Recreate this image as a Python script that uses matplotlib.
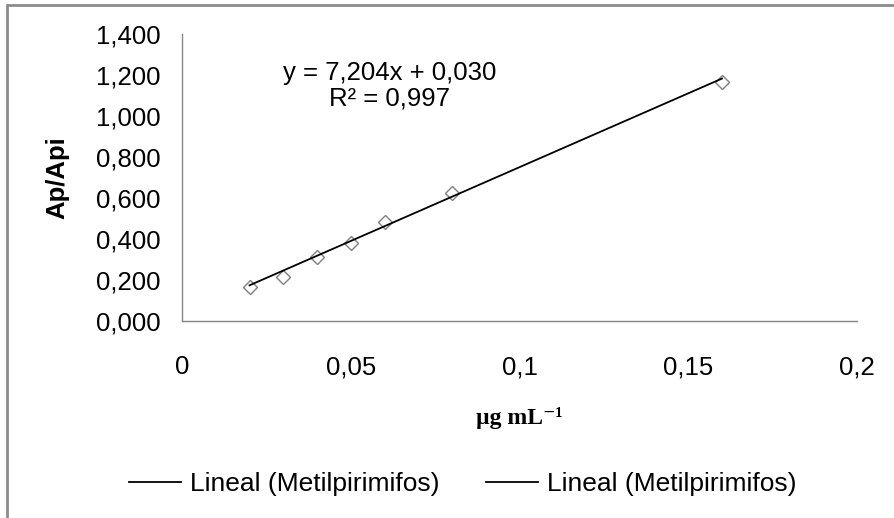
import matplotlib
matplotlib.use('Agg')
import matplotlib.pyplot as plt
from matplotlib.patches import Rectangle
from matplotlib.ticker import FuncFormatter
import numpy as np

# concentration (ug/mL) vs area ratio Ap/Api
conc = [0.02, 0.03, 0.04, 0.05, 0.06, 0.08, 0.16]
ratio = [0.167, 0.216, 0.314, 0.379, 0.481, 0.623, 1.164]

# trendline as reported on the chart
slope = 7.204
intercept = 0.030
r2 = 0.997

x_ticks = [0, 0.05, 0.1, 0.15, 0.2]
y_ticks = [0, 0.2, 0.4, 0.6, 0.8, 1.0, 1.2, 1.4]
legend_labels = ['Lineal (Metilpirimifos)', 'Lineal (Metilpirimifos)']

plt.rcParams['font.family'] = ['Liberation Sans', 'DejaVu Sans']
fs = 18.5
grey = '#868686'

fig = plt.figure(figsize=(8.94, 5.18), dpi=100)
ax = fig.add_axes([182 / 894, 1 - 321 / 518, 675 / 894, 287 / 518])

ax.plot(conc, ratio, linestyle='none', marker='D', markersize=7.5,
        markerfacecolor='none', markeredgecolor='#808080', markeredgewidth=1.0)

xs = np.array([min(conc), max(conc)])
trend, = ax.plot(xs, slope * xs + intercept, color='black', linewidth=1.3)

ax.set_xlim(0, 0.2)
ax.set_ylim(0, 1.4)
ax.set_xticks(x_ticks)
ax.set_yticks(y_ticks)
ax.xaxis.set_major_formatter(FuncFormatter(lambda v, p: '{:g}'.format(v).replace('.', ',')))
ax.yaxis.set_major_formatter(FuncFormatter(lambda v, p: '{:.3f}'.format(v).replace('.', ',')))
ax.tick_params(axis='both', length=0, labelsize=fs)
ax.tick_params(axis='y', pad=15.5)
ax.tick_params(axis='x', pad=24.5)

for s in ['top', 'right']:
    ax.spines[s].set_visible(False)
for s in ['left', 'bottom']:
    ax.spines[s].set_color(grey)
    ax.spines[s].set_linewidth(1.0)

eq = 'y = {:.3f}x + {:.3f}\nR² = {:.3f}'.format(slope, intercept, r2).replace('.', ',')
ax.text(0.308, 0.819, eq, transform=ax.transAxes, ha='center', va='center',
        multialignment='center', fontsize=fs, linespacing=1.08)

ax.set_ylabel('Ap/Api', fontsize=fs, fontweight='bold', va='center')
ax.yaxis.set_label_coords(-0.185, 0.5)
ax.set_xlabel('µg mL⁻¹', fontsize=17, fontweight='bold', va='center',
              family=['Liberation Serif', 'DejaVu Serif'])
ax.xaxis.set_label_coords(0.5, -0.338)

fig.legend([trend, trend], legend_labels, ncol=2, loc='center',
           bbox_to_anchor=(462.5 / 894, 1 - 484 / 518), frameon=False,
           fontsize=19, handlelength=2.0, handletextpad=0.32, columnspacing=1.75)

# outer chart border (only left and top edges fall inside the image)
fig.patches.append(Rectangle((7 / 894, -0.1), 1.2, 1.1 - 5 / 518, transform=fig.transFigure,
                             fill=False, edgecolor='#8c8c8c', linewidth=2))

fig.savefig('out.png', dpi=100)
